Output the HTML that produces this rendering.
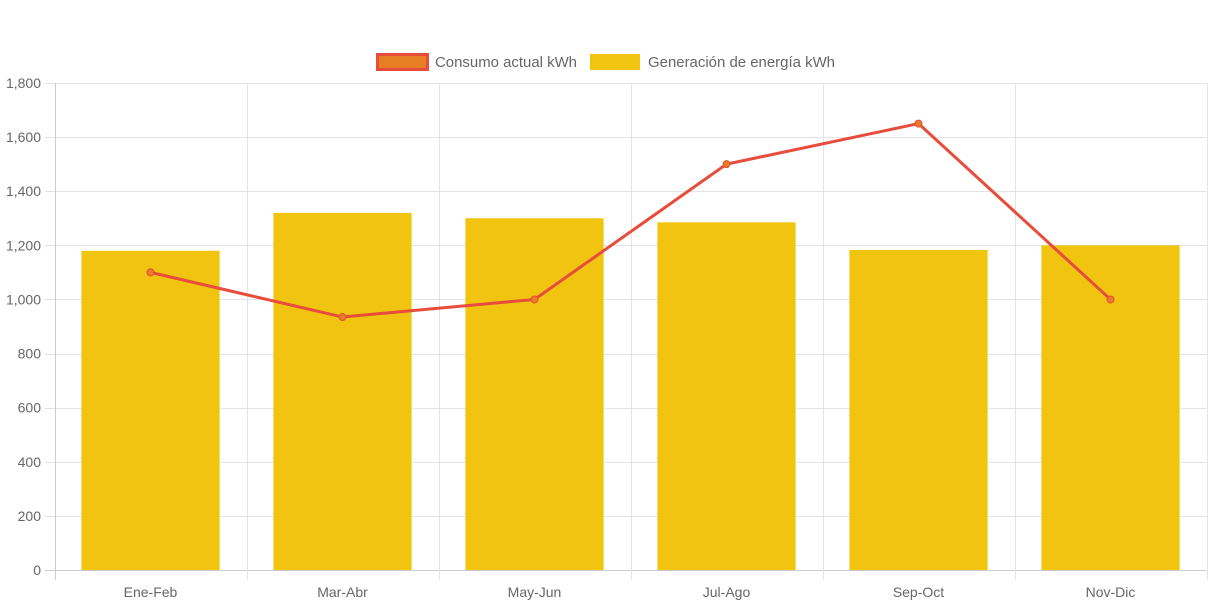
<!DOCTYPE html>
<html><head><meta charset="utf-8"><style>body{margin:0;background:#fff}svg{display:block;font-family:"Liberation Sans",sans-serif}</style></head>
<body>
<svg id="chart" width="1213" height="606" viewBox="0 0 1213 606">
<g>
<g><rect x="377.5" y="54.5" width="50" height="15" fill="#e67e22" stroke="#e74c3c" stroke-width="3"/><text x="435" y="67" font-size="14.5" fill="#666" textLength="142" lengthAdjust="spacingAndGlyphs">Consumo actual kWh</text></g>
<g><rect x="590" y="54" width="50" height="16" fill="#f1c40f"/><text x="648" y="67" font-size="14.5" fill="#666" textLength="187" lengthAdjust="spacingAndGlyphs">Generación de energía kWh</text></g>
</g>
<g id="grid"></g>
<g id="bars"></g>
<g id="line"></g>
<g id="axes"></g>
</svg>
<script>
const categories = ["Ene-Feb","Mar-Abr","May-Jun","Jul-Ago","Sep-Oct","Nov-Dic"];
const generacion = [1180,1320,1300,1285,1183,1200];
const consumo = [1100,935,1000,1500,1650,1000];
const yTicks = [0,200,400,600,800,1000,1200,1400,1600,1800];
const NS="http://www.w3.org/2000/svg";
const L=54.5,R=1206.5,T=83,B=570,YMAX=1800;
const y=v=>B-(v/YMAX)*(B-T);
const bw=(R-L)/categories.length;
const xc=i=>L+bw*(i+0.5);
function mk(tag,attrs,parent,text){const e=document.createElementNS(NS,tag);for(const k in attrs)e.setAttribute(k,attrs[k]);if(text!==undefined)e.textContent=text;document.getElementById(parent).appendChild(e);return e;}
yTicks.forEach(v=>{
 const g=mk('line',{x1:45,x2:R,y1:Math.round(y(v))+0.5,y2:Math.round(y(v))+0.5,stroke:v===0?'#ccc':'#e4e4e4','stroke-width':1},'grid');
 
 
 const t=mk('text',{x:41,y:y(v)+5,'text-anchor':'end','font-size':14,fill:'#666'},'axes',v.toLocaleString('en-US'));
 
 
});
for(let i=0;i<=categories.length;i++){
 const x=Math.round(L+bw*i)+0.5;
 const g=mk('line',{x1:x,x2:x,y1:T,y2:580,stroke:i===0?'#ccc':'#e4e4e4','stroke-width':1},'grid');
 
 
}
categories.forEach((c,i)=>{
 const w=bw*0.72;
 const b=mk('rect',{x:xc(i)-w/2,y:y(generacion[i]),width:w,height:B-y(generacion[i]),fill:'#f1c40f'},'bars');
 
 
 const t=mk('text',{x:xc(i),y:597,'text-anchor':'middle','font-size':14,fill:'#666'},'axes',c);
 
 
});
const pl=mk('polyline',{points:consumo.map((v,i)=>xc(i)+','+y(v)).join(' '),fill:'none',stroke:'#e74c3c','stroke-width':3},'line');


consumo.forEach((v,i)=>{
 const p=mk('circle',{cx:xc(i),cy:y(v),r:3.5,fill:'#e67e22',stroke:'#e74c3c','stroke-width':1},'line');
 
 
});
</script>
</body></html>
